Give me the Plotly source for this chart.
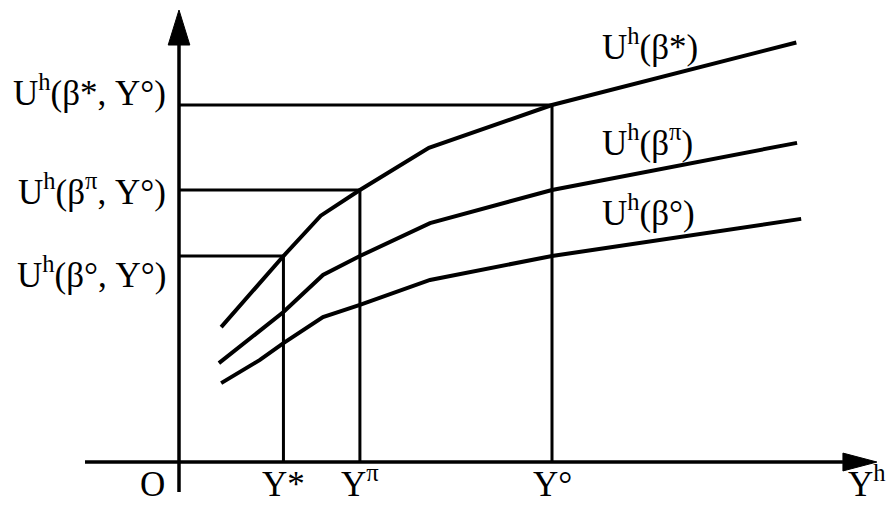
import plotly.graph_objects as go

# Income levels marked on the horizontal axis
income_labels = ["Y*", "Y<sup>π</sup>", "Y°"]
income_levels = [2.8, 4.85, 10.0]

# Utility levels at Y° marked on the vertical axis
utility_labels = ["U<sup>h</sup>(β*, Y°)", "U<sup>h</sup>(β<sup>π</sup>, Y°)", "U<sup>h</sup>(β°, Y°)"]
utility_levels = [10.0, 7.62, 5.77]

# Utility curves U^h(beta) as functions of income Y^h
curve_names = ["U<sup>h</sup>(β*)", "U<sup>h</sup>(β<sup>π</sup>)", "U<sup>h</sup>(β°)"]
x_star = [1.13, 2.8, 3.8, 4.85, 6.7, 10.0, 16.55]
y_star = [3.78, 5.77, 6.9, 7.62, 8.8, 10.0, 11.75]
x_pi = [1.07, 2.8, 3.86, 4.85, 6.73, 10.0, 16.57]
y_pi = [2.77, 4.2, 5.24, 5.77, 6.69, 7.62, 8.94]
x_circ = [1.13, 2.17, 2.8, 3.86, 4.85, 6.73, 10.0, 16.68]
y_circ = [2.21, 2.86, 3.33, 4.06, 4.4, 5.1, 5.77, 6.81]

# Axis extents
x_axis_start, x_axis_tip = -2.52, 18.71
y_axis_start, y_axis_tip = -0.84, 12.66

X_RANGE = [-4.799, 19.008]
Y_RANGE = [-1.204, 12.941]

FONT = "Liberation Serif, Times New Roman, serif"
INK = "black"
SIZE = 35

fig = go.Figure()

# Guide lines from the vertical axis to the curves and down to the income axis
for lvl, u in zip(income_levels, reversed(utility_levels)):
    fig.add_trace(go.Scatter(x=[0, lvl, lvl], y=[u, u, 0], mode="lines",
                             line=dict(color=INK, width=3), hoverinfo="skip"))

# Utility curves
for xs, ys in [(x_star, y_star), (x_pi, y_pi), (x_circ, y_circ)]:
    fig.add_trace(go.Scatter(x=xs, y=ys, mode="lines",
                             line=dict(color=INK, width=4), hoverinfo="skip"))

# Axes with arrowheads
x_head = 0.91
y_head = 0.98
fig.add_trace(go.Scatter(x=[x_axis_start, x_axis_tip - x_head], y=[0, 0], mode="lines",
                         line=dict(color=INK, width=3.5), hoverinfo="skip"))
fig.add_trace(go.Scatter(x=[0, 0], y=[y_axis_start, y_axis_tip - y_head], mode="lines",
                         line=dict(color=INK, width=3.5), hoverinfo="skip"))
fig.add_trace(go.Scatter(x=[x_axis_tip, x_axis_tip - x_head, x_axis_tip - x_head, x_axis_tip],
                         y=[0, 0.25, -0.25, 0], mode="lines", fill="toself",
                         fillcolor=INK, line=dict(color=INK, width=1), hoverinfo="skip"))
fig.add_trace(go.Scatter(x=[0, -0.29, 0.29, 0],
                         y=[y_axis_tip, y_axis_tip - y_head, y_axis_tip - y_head, y_axis_tip],
                         mode="lines", fill="toself",
                         fillcolor=INK, line=dict(color=INK, width=1), hoverinfo="skip"))

text_font = dict(family=FONT, size=SIZE, color=INK)
annotations = []
# Vertical axis labels
for text, u, dy in zip(utility_labels, utility_levels, [0.42, 0.0, -0.45]):
    annotations.append(dict(x=-0.3, y=u + dy, text=text, xanchor="right", yanchor="middle",
                            showarrow=False, font=text_font))
# Horizontal axis labels, sitting on the bottom edge
bottom = dict(yref="paper", y=0, yanchor="bottom", showarrow=False, font=text_font,
              borderpad=0)
for text, lvl in zip(income_labels, income_levels):
    annotations.append(dict(x=lvl, text=text, xanchor="center", **bottom))
annotations.append(dict(x=-0.7, text="O", xanchor="center", **bottom))
annotations.append(dict(x=18.45, text="Y<sup>h</sup>", xanchor="center", **bottom))
# Curve labels
for text, yv in zip(curve_names, [11.7, 9.01, 7.04]):
    annotations.append(dict(x=11.29, y=yv, text=text, xanchor="left", yanchor="middle",
                            showarrow=False, font=text_font))

fig.update_layout(
    width=888, height=505,
    margin=dict(l=0, r=0, t=0, b=0),
    paper_bgcolor="white", plot_bgcolor="white",
    showlegend=False,
    xaxis=dict(range=X_RANGE, visible=False, fixedrange=True),
    yaxis=dict(range=Y_RANGE, visible=False, fixedrange=True),
    annotations=annotations,
)

fig.write_html("out.html", config={"displayModeBar": False})
